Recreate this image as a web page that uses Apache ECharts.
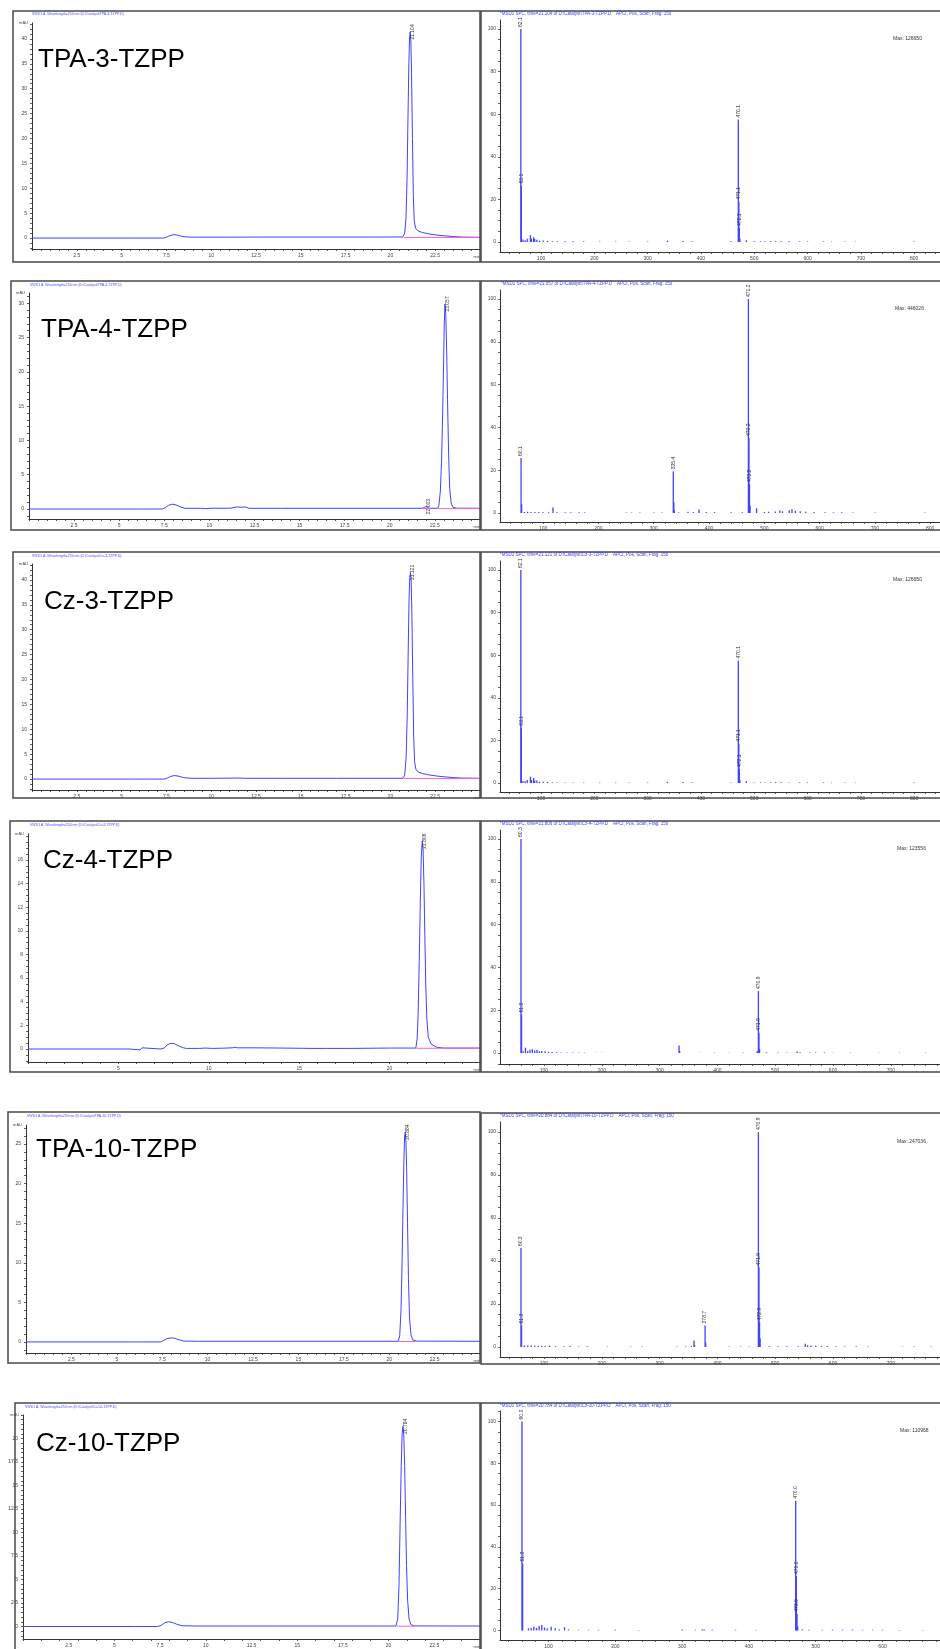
<!DOCTYPE html>
<html>
<head>
<meta charset="utf-8">
<script src="https://cdn.jsdelivr.net/npm/echarts@6/dist/echarts.min.js"></script>
<style>
  html, body { margin: 0; padding: 0; background: #fff; }
  #chart { width: 940px; height: 1649px; }
</style>
</head>
<body>
<div id="chart"></div>
<script>
// ---------- sample names and MS base-peak counts ----------
const sampleNames = ['TPA-3-TZPP', 'TPA-4-TZPP', 'Cz-3-TZPP', 'Cz-4-TZPP', 'TPA-10-TZPP', 'Cz-10-TZPP'];
const spectrumMax = ['126650', '446026', '126650', '123556', '247036', '110968'];

// ---------- UV chromatograms at 254 nm: [retention time (min), absorbance (mAU)] ----------
const tpa3Trace = [[0,0],[5.5,0],[5.6,0.15],[5.7,0],[6.2,0],[6.25,0.12],[6.35,0],[7.35,0],[7.5,0.15],[7.7,0.5],[7.9,0.68],[8.1,0.6],[8.35,0.35],[8.6,0.22],[9,0.18],[11,0.18],[13,0.2],[16,0.2],[19,0.2],[20.7,0.22],[20.8,1],[20.87,4],[20.93,12],[20.98,24],[21.03,35],[21.07,40.2],[21.104,41.4],[21.14,40],[21.18,33],[21.23,20],[21.28,8.5],[21.33,3.5],[21.4,2],[21.55,1.4],[21.8,1.1],[22.2,0.8],[22.6,0.6],[23,0.45],[23.5,0.3],[24,0.2],[25,0.15]];
const tpa4Trace = [[0,0],[6.1,0],[6.2,-0.15],[6.3,0],[7.4,0],[7.55,0.2],[7.75,0.55],[7.95,0.7],[8.15,0.6],[8.4,0.3],[8.65,0.1],[9.5,0.1],[9.8,0.05],[10.2,0.12],[10.6,0.1],[11.2,0.12],[11.5,0.3],[11.8,0.25],[12,0.3],[12.2,0.1],[14,0.1],[18,0.1],[21.8,0.1],[21.9,0.2],[22.003,0.35],[22.1,0.2],[22.2,0.1],[22.65,0.1],[22.72,0.5],[22.8,2.5],[22.87,7],[22.93,14],[22.98,21],[23.02,27],[23.057,29.9],[23.1,28.6],[23.15,23.5],[23.2,16],[23.26,8],[23.32,3],[23.4,0.9],[23.5,0.25],[23.7,0.12],[25,0.1]];
const cz3Trace = [[0,0],[5.5,0],[5.6,0.15],[5.7,0],[6.2,0],[6.3,0.1],[6.4,0],[7.4,0],[7.55,0.2],[7.75,0.55],[7.95,0.7],[8.15,0.6],[8.4,0.35],[8.65,0.2],[9,0.15],[10,0.15],[11.5,0.2],[12,0.15],[14,0.15],[17,0.15],[20.7,0.15],[20.8,0.8],[20.88,4.5],[20.94,13],[20.99,25],[21.04,36],[21.08,40.5],[21.121,41.5],[21.16,40],[21.2,33],[21.25,20],[21.3,8.5],[21.35,3.5],[21.42,2],[21.55,1.4],[21.8,1.1],[22.2,0.8],[22.6,0.6],[23,0.45],[23.5,0.3],[24,0.2],[25,0.15]];
const cz4Trace = [[0,0],[5.4,0],[5.5,0.1],[5.6,0],[6.2,-0.08],[6.3,0.1],[6.4,0],[7.35,0],[7.45,-0.12],[7.55,0.1],[7.7,0.35],[7.9,0.48],[8.1,0.45],[8.35,0.25],[8.6,0.1],[8.75,0.05],[9.5,0.05],[9.8,0.08],[10.2,0.05],[10.8,0.07],[11.3,0.1],[11.45,0.15],[11.6,0.1],[12.5,0.1],[14,0.08],[15.2,0.06],[15.3,0.1],[15.6,0.05],[16.5,0.05],[17.8,0.05],[20,0.08],[21.45,0.08],[21.52,0.8],[21.58,3],[21.64,7.5],[21.7,12.5],[21.75,16.2],[21.806,17.6],[21.85,17],[21.9,14],[21.95,9.5],[22,5.5],[22.06,2.5],[22.14,1],[22.3,0.4],[22.6,0.15],[23,0.08],[25,0.08]];
const tpa10Trace = [[0,0],[5.5,0],[5.6,0.08],[5.7,0],[6.1,0],[6.2,-0.12],[6.3,0],[7.4,0],[7.55,0.15],[7.75,0.4],[8,0.52],[8.2,0.45],[8.45,0.25],[8.7,0.1],[9.5,0.08],[11.2,0.08],[11.3,0.2],[11.4,0.08],[14,0.08],[18,0.08],[20.5,0.08],[20.58,0.8],[20.65,4],[20.71,10],[20.76,17],[20.81,23],[20.85,26],[20.884,26.5],[20.92,25.5],[20.96,22],[21.01,15],[21.06,8],[21.12,3],[21.2,0.9],[21.3,0.25],[21.5,0.1],[25,0.08]];
const cz10Trace = [[0,0],[6.1,0],[6.2,-0.2],[6.3,0],[7.35,0],[7.45,-0.2],[7.55,0.1],[7.75,0.4],[7.95,0.5],[8.15,0.45],[8.4,0.25],[8.7,0.08],[9.5,0.05],[11.6,0.05],[11.7,0.12],[11.8,0.05],[14,0.05],[18,0.05],[20.4,0.05],[20.5,0.8],[20.57,4.5],[20.63,11],[20.69,17],[20.74,20.5],[20.784,21.3],[20.83,20.5],[20.88,17],[20.93,11.5],[20.98,6.5],[21.04,2.8],[21.12,0.8],[21.22,0.2],[21.4,0.06],[25,0.05]];

// retention times printed above the integrated peaks
const tpa3Peaks = [21.104];
const tpa4Peaks = [22.003, 23.057];
const cz3Peaks = [21.121];
const cz4Peaks = [21.806];
const tpa10Peaks = [20.884];
const cz10Peaks = [20.784];

// integration baselines
const tpa3Baselines = [[[20.76, 0.12], [25, 0.12]]];
const tpa4Baselines = [[[21.8, 0.06], [22.25, 0.06]], [[22.6, 0.06], [25, 0.06]]];
const cz3Baselines = [[[20.75, 0.12], [25, 0.12]]];
const cz4Baselines = [[[21.48, 0.06], [25, 0.06]]];
const tpa10Baselines = [[[20.52, 0.05], [21.45, 0.05]]];
const cz10Baselines = [[[20.45, 0.03], [21.4, 0.03]]];

// ---------- APCI(+) mass spectra: [m/z, relative abundance (%)] ----------
const tpa3Spectrum = [[62.1,100],[63.1,26.5],[66.1,1.2],[70.1,0.8],[74.1,1.5],[80.1,3.2],[82.1,1.6],[86.1,2.2],[88.1,1.4],[92.1,1.1],[97.1,0.6],[104.1,0.7],[112.1,0.5],[121.1,0.4],[130.1,0.3],[145.1,0.3],[160.1,0.3],[180.1,0.3],[210.1,0.2],[240.1,0.2],[265.1,0.2],[300.1,0.2],[337.1,0.6],[366.1,0.5],[383.1,0.4],[456.1,0.3],[470.1,57.5],[471.1,19],[472.1,6.6],[473.1,1.5],[485.1,0.8],[500,0.3],[512,0.3],[520,0.3],[531,0.4],[540,0.4],[550,0.4],[565,0.3],[585,0.3],[600,0.3],[630,0.3],[645,0.2],[670,0.2],[690,0.2],[800,0.2]];
const tpa4Spectrum = [[60.1,25.7],[61.1,4.2],[66,0.5],[72,0.6],[78,0.5],[85,0.5],[92,0.5],[100,0.4],[110,0.4],[117.8,2.6],[125,0.3],[140,0.3],[150,0.3],[165,0.3],[175,0.3],[250,0.2],[260,0.2],[275,0.2],[300,0.2],[315,0.2],[335.4,19.5],[336.4,5],[337.4,1.2],[345,0.3],[362,0.6],[372,0.4],[382,1.6],[395,0.5],[410,0.4],[440,0.3],[460,0.3],[471.2,100],[472.2,35],[473.2,13.5],[474.2,3.5],[486,2.2],[500,0.5],[508,0.6],[520,0.7],[528,1.2],[533,0.8],[545,1.3],[550,1.8],[556,1],[565,0.8],[575,0.6],[590,0.5],[610,0.3],[625,0.3],[640,0.3],[660,0.2],[700,0.2],[790,0.2]];
const cz3Spectrum = [[62.1,100],[63.1,26],[66.1,1],[70.1,0.8],[74.1,1.4],[80.1,3],[82.1,1.5],[86.1,2.4],[88.1,1.2],[92.1,1.2],[97.1,0.6],[104.1,0.6],[112.1,0.5],[121.1,0.4],[130.1,0.3],[145.1,0.3],[160.1,0.3],[180.1,0.3],[210.1,0.2],[240.1,0.2],[265.1,0.2],[300.1,0.2],[337.1,0.6],[366.1,0.5],[383.1,0.4],[456.1,0.3],[470.1,57.5],[471.1,18.5],[472.1,6.6],[473.1,1.5],[485.1,0.8],[500,0.3],[512,0.3],[520,0.3],[531,0.4],[540,0.4],[550,0.4],[565,0.3],[585,0.3],[600,0.3],[630,0.3],[645,0.2],[670,0.2],[690,0.2],[800,0.2]];
const cz4Spectrum = [[60.3,100],[61.3,18],[64,0.8],[68,2.5],[72,1],[76,1.5],[80,1.8],[84,1.2],[88,1.5],[92,0.8],[96,1],[102,0.8],[108,0.6],[114,0.5],[122,0.4],[130,0.3],[140,0.3],[150,0.3],[160,0.2],[170,0.2],[190,0.2],[200,0.2],[333.7,3.5],[334.7,1],[370,0.2],[395,0.2],[420,0.2],[445,0.2],[468.9,1],[470.9,29],[471.9,9.5],[472.9,2],[485,0.4],[505,0.3],[520,0.3],[538,0.7],[543,0.4],[560,0.3],[570,0.3],[585,0.3],[600,0.2],[630,0.2],[680,0.2],[715,0.2],[760,0.2]];
const tpa10Spectrum = [[60.3,46],[61.3,10],[66,0.6],[72,0.6],[78,0.6],[84,0.5],[90,0.5],[96,0.5],[102,0.4],[110,0.5],[120,0.4],[135,0.3],[145,0.4],[160,0.3],[175,0.3],[210,0.2],[250,0.2],[270,0.2],[330,0.2],[345,0.3],[355,0.4],[359.6,3],[360.6,0.8],[378.7,10],[379.7,2],[420,0.2],[440,0.2],[455,0.2],[470.9,100],[471.9,37],[472.9,11.5],[473.9,4],[490,0.4],[505,0.3],[520,0.3],[540,0.3],[552,1.5],[556,0.8],[562,0.6],[570,0.5],[580,0.5],[590,0.4],[605,0.3],[620,0.3],[640,0.3],[660,0.2],[720,0.2],[740,0.2],[770,0.2]];
const cz10Spectrum = [[60.3,100],[61.3,32],[70,1],[74,1.2],[78,1.8],[82,1.2],[86,2.2],[90,2.6],[94,1.4],[98,1],[104,1.8],[110,1],[116,0.6],[124,1.5],[130,0.5],[145,0.3],[160,0.3],[175,0.3],[200,0.3],[235,0.2],[300,0.4],[320,0.3],[330,0.6],[333,0.4],[345,0.3],[380,0.3],[410,0.2],[470,62],[471,26],[472,8],[473,2],[480,0.5],[490,0.3],[510,0.3],[525,0.4],[540,0.4],[555,0.4],[570,0.3],[585,0.3],[600,0.3],[625,0.2],[660,0.2]];

// ions annotated with their m/z
const tpa3Labelled = [62.1, 63.1, 470.1, 471.1, 472.1];
const tpa4Labelled = [60.1, 335.4, 471.2, 472.2, 473.2];
const cz3Labelled = [62.1, 63.1, 470.1, 471.1, 472.1];
const cz4Labelled = [60.3, 61.3, 470.9, 471.9];
const tpa10Labelled = [60.3, 61.3, 378.7, 470.9, 471.9, 472.9];
const cz10Labelled = [60.3, 61.3, 470, 471, 472];

// ---------- tick labels ----------
const timeTicksFine = [2.5, 5, 7.5, 10, 12.5, 15, 17.5, 20, 22.5];
const timeTicksCoarse = [5, 10, 15, 20];
const tpa3AbsTicks = [0, 5, 10, 15, 20, 25, 30, 35, 40];
const tpa4AbsTicks = [0, 5, 10, 15, 20, 25, 30];
const cz3AbsTicks = [0, 5, 10, 15, 20, 25, 30, 35, 40];
const cz4AbsTicks = [0, 2, 4, 6, 8, 10, 12, 14, 16];
const tpa10AbsTicks = [0, 5, 10, 15, 20, 25];
const cz10AbsTicks = [0, 2.5, 5, 7.5, 10, 12.5, 15, 17.5, 20];
const mzTicks = [100, 200, 300, 400, 500, 600, 700, 800];
const abundanceTicks = [0, 20, 40, 60, 80, 100];

// ---------- assembling the six sample rows ----------
const rows = [
  { trace: tpa3Trace, peaks: tpa3Peaks, baselines: tpa3Baselines, absTicks: tpa3AbsTicks, timeTicks: timeTicksFine, spectrum: tpa3Spectrum, labelled: tpa3Labelled },
  { trace: tpa4Trace, peaks: tpa4Peaks, baselines: tpa4Baselines, absTicks: tpa4AbsTicks, timeTicks: timeTicksFine, spectrum: tpa4Spectrum, labelled: tpa4Labelled },
  { trace: cz3Trace, peaks: cz3Peaks, baselines: cz3Baselines, absTicks: cz3AbsTicks, timeTicks: timeTicksFine, spectrum: cz3Spectrum, labelled: cz3Labelled },
  { trace: cz4Trace, peaks: cz4Peaks, baselines: cz4Baselines, absTicks: cz4AbsTicks, timeTicks: timeTicksCoarse, spectrum: cz4Spectrum, labelled: cz4Labelled },
  { trace: tpa10Trace, peaks: tpa10Peaks, baselines: tpa10Baselines, absTicks: tpa10AbsTicks, timeTicks: timeTicksFine, spectrum: tpa10Spectrum, labelled: tpa10Labelled },
  { trace: cz10Trace, peaks: cz10Peaks, baselines: cz10Baselines, absTicks: cz10AbsTicks, timeTicks: timeTicksFine, spectrum: cz10Spectrum, labelled: cz10Labelled }
];

// page layout (pixels): frame = [x0, y0, x1, y1], grid = [left, top, width, height]
const lcLayout = [
  { frame: [13, 11, 480, 262],   grid: [32, 23, 448, 226],   y: [-2.2, 43.2],  xMinor: 0.5, yMinor: 1,   title: [32, 14],   tag: [38, 60] },
  { frame: [11, 281, 480, 530],  grid: [29, 293, 451, 226],  y: [-1.46, 31.5], xMinor: 0.5, yMinor: 1,   title: [30, 285],  tag: [41, 330] },
  { frame: [13, 552, 480, 798],  grid: [32, 564, 448, 226],  y: [-2.2, 43.2],  xMinor: 0.5, yMinor: 1,   title: [32, 556],  tag: [44, 602] },
  { frame: [10, 821, 480, 1072], grid: [28, 834, 452, 228],  y: [-1.1, 18.2],  xMinor: 1,   yMinor: 0.5, title: [30, 825],  tag: [43, 861] },
  { frame: [8, 1112, 480, 1363], grid: [26, 1125, 454, 228], y: [-1.4, 27.4],  xMinor: 0.5, yMinor: 1,   title: [27, 1116], tag: [36, 1150] },
  { frame: [15, 1403, 480, 1660], grid: [23, 1415, 457, 232], y: [-1.33, 22.5], xMinor: 1,  yMinor: 0.5, title: [25, 1407], tag: [36, 1444] }
];
const msLayout = [
  { frame: [481, 11, 945, 262],    grid: [500, 20, 440, 232],   x: [23, 848.5], y: [-4.7, 104.2], title: [500, 14],   max: [893, 39] },
  { frame: [481, 281, 945, 530],   grid: [500, 290, 440, 232],  x: [22, 817.7], y: [-4.2, 104.2], title: [501, 284],  max: [895, 309] },
  { frame: [481, 552, 945, 798],   grid: [500, 561, 440, 231],  x: [23, 848.5], y: [-4.2, 104.2], title: [500, 555],  max: [893, 580] },
  { frame: [481, 821, 945, 1072],  grid: [500, 830, 440, 234],  x: [24, 785],   y: [-5.1, 104.2], title: [500, 824],  max: [897, 849] },
  { frame: [481, 1113, 945, 1364], grid: [500, 1122, 440, 235], x: [24, 785],   y: [-4.7, 104.7], title: [500, 1116], max: [897, 1142] },
  { frame: [481, 1403, 945, 1660], grid: [500, 1411, 440, 237], x: [27.4, 686], y: [-4.6, 105],   title: [500, 1406], max: [900, 1431] }
];

const FONT = 'Liberation Sans, Arial, sans-serif';
const TRACE_BLUE = '#4242ff';
const BASELINE_PINK = '#ff5fcf';
const AXIS_GREY = '#333';

// evenly spaced minor tick positions inside [lo, hi]
function tickRun(lo, hi, step) {
  const out = [];
  for (let v = Math.ceil(lo / step - 1e-9) * step; v <= hi + 1e-9; v += step) out.push(+v.toFixed(4));
  return out;
}

function axisBase(gridIndex, min, max, labels, minorStep, labelMargin) {
  return {
    type: 'value', gridIndex, min, max,
    axisLine: { show: true, onZero: false, lineStyle: { color: AXIS_GREY, width: 1 } },
    axisTick: { show: true, length: 2, customValues: tickRun(min, max, minorStep), lineStyle: { color: AXIS_GREY, width: 0.8 } },
    axisLabel: { show: true, customValues: labels, fontSize: 5, fontFamily: FONT, color: '#444', margin: labelMargin, formatter: v => String(v) },
    splitLine: { show: false }
  };
}

const grids = [], xAxes = [], yAxes = [], series = [], graphics = [];

rows.forEach((row, i) => {
  const L = lcLayout[i];
  const M = msLayout[i];
  const name = sampleNames[i];
  const lcIdx = i * 2;
  const msIdx = i * 2 + 1;
  const apexTime = row.trace.find(p => p[0] === row.peaks[row.peaks.length - 1])[0];

  // chromatogram panel
  grids.push({ left: L.grid[0], top: L.grid[1], width: L.grid[2], height: L.grid[3] });
  xAxes.push(Object.assign(axisBase(lcIdx, 0, 25, row.timeTicks, L.xMinor, 4), {
    name: 'min', nameLocation: 'end', nameGap: 0,
    nameTextStyle: { fontSize: 4, fontFamily: FONT, color: '#444', align: 'right', verticalAlign: 'top', padding: [6, 0, 0, 0] }
  }));
  yAxes.push(Object.assign(axisBase(lcIdx, L.y[0], L.y[1], row.absTicks, L.yMinor, 5), {
    name: 'mAU', nameLocation: 'end', nameGap: 0,
    nameTextStyle: { fontSize: 4, fontFamily: FONT, color: '#444', align: 'right', verticalAlign: 'middle', padding: [0, 4, 0, 0] }
  }));
  row.baselines.forEach(seg => {
    series.push({
      type: 'line', xAxisIndex: lcIdx, yAxisIndex: lcIdx, data: seg, symbol: 'none', silent: true, z: 4,
      lineStyle: { color: BASELINE_PINK, width: 1 }
    });
  });
  series.push({
    type: 'line', xAxisIndex: lcIdx, yAxisIndex: lcIdx, symbol: 'none', showSymbol: true, silent: true, z: 3,
    lineStyle: { color: TRACE_BLUE, width: 1 },
    label: {
      show: false, position: 'right', rotate: 90, distance: 2, align: 'center', verticalAlign: 'middle',
      fontSize: 5, fontFamily: FONT, color: '#333', formatter: p => p.value[0].toFixed(3)
    },
    data: row.trace.map(p => row.peaks.includes(p[0])
      ? { value: p, symbol: 'circle', symbolSize: 1, itemStyle: { color: 'rgba(0,0,0,0)' }, label: { show: true } }
      : p)
  });

  // mass spectrum panel
  grids.push({ left: M.grid[0], top: M.grid[1], width: M.grid[2], height: M.grid[3] });
  xAxes.push(axisBase(msIdx, M.x[0], M.x[1], mzTicks, 20, 4));
  yAxes.push(axisBase(msIdx, M.y[0], M.y[1], abundanceTicks, 5, 4));
  series.push({
    type: 'bar', xAxisIndex: msIdx, yAxisIndex: msIdx, barWidth: 1.3, silent: true,
    itemStyle: { color: TRACE_BLUE },
    label: {
      show: false, position: 'top', rotate: 90, distance: 2, align: 'left', verticalAlign: 'middle',
      fontSize: 5, fontFamily: FONT, color: '#333', formatter: p => p.value[0].toFixed(1)
    },
    data: row.spectrum.map(p => row.labelled.includes(p[0]) ? { value: p, label: { show: true } } : p)
  });

  // frames, headers and sample tags
  [L.frame, M.frame].forEach(f => graphics.push({
    type: 'rect', silent: true, z: 10,
    shape: { x: f[0], y: f[1], width: f[2] - f[0], height: f[3] - f[1] },
    style: { fill: 'none', stroke: '#4a4a4a', lineWidth: 1.5 }
  }));
  graphics.push({
    type: 'text', x: L.title[0], y: L.title[1], silent: true, z: 10,
    style: { text: 'VWD1 A, Wavelength=254 nm (D:\\Catalyst\\' + name + '.D)', fontSize: 3.5, fontFamily: FONT, fill: '#4a4aff', verticalAlign: 'middle' }
  });
  graphics.push({
    type: 'text', x: M.title[0], y: M.title[1], silent: true, z: 10,
    style: { text: '*MSD1 SPC, time=' + apexTime.toFixed(3) + ' of D:\\Catalyst\\' + name + '.D    APCI, Pos, Scan, Frag: 150', fontSize: 4.5, fontFamily: FONT, fill: '#3a3aff', verticalAlign: 'middle' }
  });
  graphics.push({
    type: 'text', x: M.max[0], y: M.max[1], silent: true, z: 10,
    style: { text: 'Max: ' + spectrumMax[i], fontSize: 5, fontFamily: FONT, fill: '#333', verticalAlign: 'middle' }
  });
  graphics.push({
    type: 'text', x: L.tag[0], y: L.tag[1], silent: true, z: 10,
    style: { text: name, fontSize: 26, fontFamily: FONT, fill: '#000', verticalAlign: 'middle' }
  });
});

const chart = echarts.init(document.getElementById('chart'), null, { renderer: 'canvas' });
chart.setOption({
  animation: false,
  backgroundColor: '#fff',
  grid: grids,
  xAxis: xAxes,
  yAxis: yAxes,
  series: series,
  graphic: graphics
});
</script>
</body>
</html>
